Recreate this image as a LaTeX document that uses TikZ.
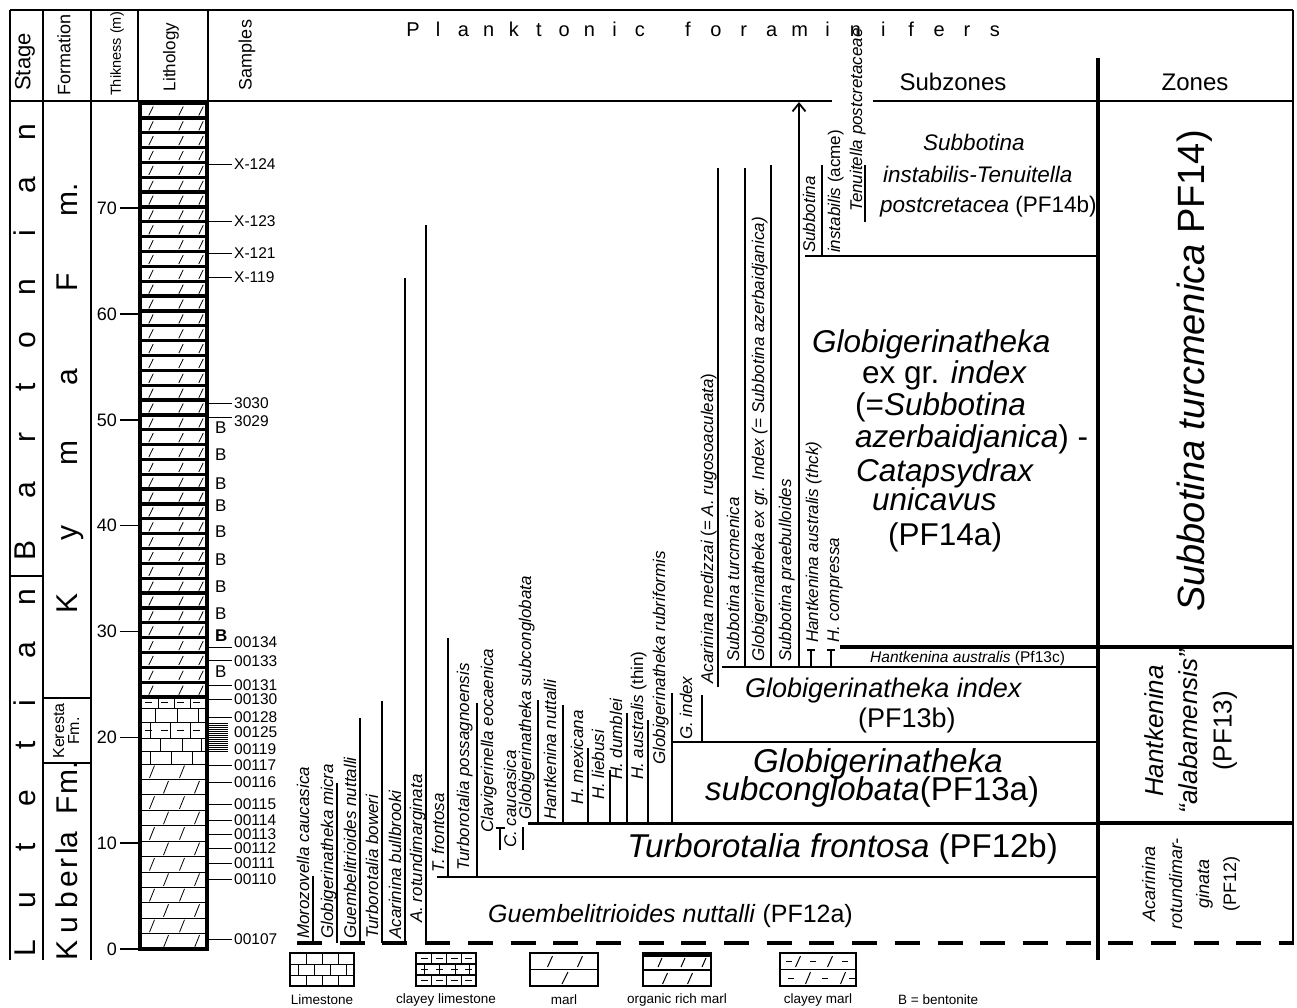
\documentclass[tikz,border=0pt]{standalone}
\usepackage{fontspec}
\setmainfont{Liberation Sans}
\usetikzlibrary{arrows.meta}
\newcommand\fsz[2]{\fontsize{#1}{#2}\selectfont}
\newcommand\smpl[4]{\draw[line width=0.9pt] (208,#1) -- (232,#1); \node[smp] (#3) at (234,#2) {#4};}
\begin{document}
\begin{tikzpicture}[x=1pt,y=-1pt,
  frm/.style={line width=1.3pt},
  rng/.style={line width=1.8pt},
  bnd/.style={line width=1.6pt},
  bndk/.style={line width=3.6pt},
  sp/.style={rotate=90,anchor=base west,inner sep=0pt,font={\fsz{17}{20}\itshape}},
  hdr/.style={rotate=90,inner sep=0pt},
  smp/.style={anchor=west,inner sep=0pt,font={\fsz{15.5}{18}}},
  bent/.style={anchor=west,inner sep=0pt,font={\fsz{17}{20}}},
  ltr/.style={rotate=90,anchor=base,inner sep=0pt,font={\fsz{30}{32}}},
  pf/.style={anchor=base,inner sep=0pt,font={\fsz{20}{22}}},
  sz/.style={inner sep=0pt},
  leg/.style={inner sep=0pt,font={\fsz{13.5}{16}}},
  lith/.style={line width=0.8pt},
]
\useasboundingbox (0,0) rectangle (1297,1007);
\fill[white] (0,0) rectangle (1297,1007);

% ---------------- frame ----------------
\draw[frm] (10,10) -- (1293,10);
\draw[frm] (10,101) -- (832,101);
\draw[frm] (873,101) -- (1293,101);
\draw[frm] (10,10) -- (10,960);
\draw[frm] (43,10) -- (43,960);
\draw[frm] (91,10) -- (91,960);
\draw[frm] (138,10) -- (138,101);
\draw[frm] (208,10) -- (208,101);
\draw[frm] (1293,10) -- (1293,945);
\draw[line width=4.5pt] (1098,58) -- (1098,960);
\draw[frm] (10,576) -- (43,576);
\draw[frm] (43,698) -- (91,698);
\draw[frm] (43,763) -- (91,763);

% ---------------- headers ----------------
\node[hdr,font={\fsz{22}{24}}] (hStage) at (25,62) {Stage};
\node[hdr,font={\fsz{18}{20}}] (hForm) at (64,55) {Formation};
\node[hdr,font={\fsz{14.5}{16}}] (hThk) at (117,54) {Thikness (m)};
\node[hdr,font={\fsz{17}{19}}] (hLith) at (171,57) {Lithology};
\node[hdr,font={\fsz{18}{20}}] (hSmp) at (247,55) {Samples};
\node[sz,font={\fsz{24}{26}}] (hSub) at (953,82) {Subzones};
\node[sz,font={\fsz{24}{26}}] (hZon) at (1195,82) {Zones};
\foreach \c [count=\i from 0] in {P,l,a,n,k,t,o,n,i,c}
  \node[pf] (pa\i) at ({413+25.2*\i},36) {\c};
\foreach \c [count=\i from 0] in {f,o,r,a,m,i,n,i,f,e,r,s}
  \node[pf] (pb\i) at ({688+27.9*\i},36) {\c};

% ---------------- stage & formation ----------------
\foreach \c/\yy [count=\i] in {L/948,u/900,t/847,e/798,t/745,i/703,a/650,n/597,B/550,a/490,r/437,t/387,o/340,n/287,i/233,a/185,n/132}
  \node[ltr] (st\i) at (35,\yy) {\c};
\foreach \c/\yy [count=\i] in {K/603,y/533,m/453,a/377,F/282,m./200}
  \node[ltr] (fk\i) at (77,\yy) {\c};
\foreach \c/\yy [count=\i] in {K/950,u/925,b/900,e/879,r/863,l/851,a/840,F/805,m./778}
  \node[ltr] (fb\i) at (77,\yy) {\c};
\node[hdr,align=center,font={\fsz{16}{15}}] (kerF) at (66,731) {Keresta\\Fm.};

% ---------------- thickness scale ----------------
\foreach \m in {0,10,...,70} {
  \draw[line width=1.5pt] (120,{949-10.583*\m}) -- (139,{949-10.583*\m});
  \node[anchor=east,inner sep=0pt,font={\fsz{18}{20}}] (th\m) at (117,{949-10.583*\m}) {\m};
}

% ---------------- lithology column ----------------
% organic rich marl
\foreach \i in {0,...,39}
  \foreach \sx in {151,181,201}
    \draw[lith] ({\sx-2.2},{103+14.85*\i+12.5}) -- ({\sx+2.2},{103+14.85*\i+3.5});
\foreach \i in {0,...,40}
  \draw[line width=3.3pt] (140,{103+14.85*\i}) -- (207,{103+14.85*\i});
% clayey bands and limestone
\draw[lith] (140,708) -- (207,708) (140,722) -- (207,722) (140,738) -- (207,738) (140,751) -- (207,751) (140,764) -- (207,764);
\foreach \sx in {145,161,177,193} \draw[lith] (\sx,702.5) -- ({\sx+7},702.5);
\foreach \sx in {158,174,190} \draw[lith] (\sx,697) -- (\sx,708);
\foreach \sx in {155,177,198} \draw[lith] (\sx,708) -- (\sx,722);
\foreach \sx in {145,161,177,193} \draw[lith] (\sx,730) -- ({\sx+7},730);
\foreach \sx in {150,170,190} \draw[lith] (\sx,722) -- (\sx,738);
\foreach \sx in {160,182,201} \draw[lith] (\sx,738) -- (\sx,751);
\foreach \sx in {150,171,192} \draw[lith] (\sx,751) -- (\sx,764);
% marl
\foreach \j in {1,...,11} \draw[lith] (140,{764+15.42*\j}) -- (207,{764+15.42*\j});
\foreach \j in {0,2,...,10} \foreach \sx in {152,182}
  \draw[lith] ({\sx-2.5},{764+15.42*\j+14}) -- ({\sx+2.5},{764+15.42*\j+1.5});
\foreach \j in {1,3,...,11} \foreach \sx in {166,197}
  \draw[lith] ({\sx-2.5},{764+15.42*\j+14}) -- ({\sx+2.5},{764+15.42*\j+1.5});
\draw[line width=3.5pt] (140,103) rectangle (207,949);

% ---------------- samples ----------------
\smpl{164}{164}{sX124}{X-124}
\smpl{221}{221}{sX123}{X-123}
\smpl{253}{253}{sX121}{X-121}
\smpl{277}{277}{sX119}{X-119}
\smpl{403}{403}{s3030}{3030}
\smpl{417}{421}{s3029}{3029}
\smpl{647}{642}{s134}{00134}
\smpl{660}{661}{s133}{00133}
\smpl{685}{685}{s131}{00131}
\smpl{699}{699}{s130}{00130}
\smpl{717}{717}{s128}{00128}
\node[smp] (s125) at (234,732) {00125};
\node[smp] (s119) at (234,749) {00119};
\foreach \k in {0,...,14} \draw[line width=0.6pt] (208,{723+2*\k}) -- (228,{723+2*\k});
\smpl{765}{765}{s117}{00117}
\smpl{782}{782}{s116}{00116}
\smpl{804}{804}{s115}{00115}
\smpl{820}{820}{s114}{00114}
\smpl{834}{834}{s113}{00113}
\smpl{848}{848}{s112}{00112}
\smpl{863}{863}{s111}{00111}
\smpl{879}{879}{s110}{00110}
\smpl{939}{939}{s107}{00107}
\foreach \yb [count=\k] in {428,455,484,506,532,560,587,614,672}
  \node[bent] (bn\k) at (215,\yb) {B};
\node[bent] (bnb) at (215,636) {\textbf{B}};

% ---------------- base line ----------------
\draw[line width=4pt,dash pattern=on 25pt off 17.7pt] (297,943) -- (1293,943);

% ---------------- zone boundaries ----------------
\draw[bnd] (437,877) -- (1098,877);
\draw[line width=3pt] (528,823) -- (1098,823);
\draw[bndk] (1098,823) -- (1293,823);
\draw[bnd] (672,742) -- (1098,742);
\draw[bnd] (722,667) -- (1098,667);
\draw[bndk] (840,647) -- (1293,647);
\draw[bnd] (805,256) -- (1098,256);

% ---------------- species ranges ----------------
\draw[rng] (313,943) -- (313,876);
\node[sp] (sMor) at (309,939) {Morozovella caucasica};
\draw[rng] (337,943) -- (337,783);
\node[sp] (sGmi) at (333,939) {Globigerinatheka micra};
\draw[rng] (360,943) -- (360,718);
\node[sp] (sGnu) at (356,939) {Guembelitrioides nuttalli};
\draw[rng] (382,943) -- (382,701);
\node[sp] (sTbo) at (378,939) {Turborotalia boweri};
\draw[rng] (405,943) -- (405,278);
\node[sp] (sAbu) at (401,939) {Acarinina bullbrooki};
\draw[rng] (426,943) -- (426,225);
\node[sp] (sAro) at (422,923) {A. rotundimarginata};
\draw[rng] (448,877) -- (448,638);
\node[sp] (sTfr) at (444,873) {T. frontosa};
\draw[rng] (477,877) -- (477,703);
\node[sp] (sTpo) at (469,871) {Turborotalia possagnoensis};
\draw[rng] (500,850) -- (500,828);
\draw[rng] (496,828) -- (505,828);
\node[sp] (sCeo) at (493,833) {Clavigerinella eocaenica};
\draw[rng] (523,850) -- (523,827);
\node[sp] (sCca) at (516,848) {C. caucasica};
\draw[rng] (538,823) -- (538,700);
\node[sp] (sGsu) at (531,820) {Globigerinatheka subconglobata};
\draw[rng] (563,823) -- (563,705);
\node[sp] (sHnu) at (556,820) {Hantkenina nuttalli};
\draw[rng] (588,823) -- (588,748);
\node[sp] (sHme) at (583,805) {H. mexicana};
\draw[rng] (610,823) -- (610,770);
\node[sp] (sHli) at (604,800) {H. liebusi};
\draw[rng] (627,823) -- (627,713);
\node[sp] (sHdu) at (622,780) {H. dumblei};
\draw[rng] (648,823) -- (648,720);
\node[sp] (sHat) at (643,780) {H. australis \upshape(thin)};
\draw[rng] (672,823) -- (672,693);
\node[sp] (sGru) at (665,765) {Globigerinatheka rubriformis};
\draw[rng] (702,742) -- (702,695);
\node[sp] (sGin) at (692,740) {G. index};
\draw[rng] (718,687) -- (718,168);
\node[sp] (sAme) at (713,684) {Acarinina medizzai \upshape(= \itshape A. rugosoaculeata\upshape)};
\draw[rng] (745,667) -- (745,168);
\node[sp] (sStu) at (739,662) {Subbotina turcmenica};
\draw[rng] (771,667) -- (771,165);
\node[sp] (sGex) at (764,662) {Globigerinatheka ex gr. Index (= Subbotina azerbaidjanica)};
\draw[rng,-{Straight Barb[length=8pt,width=13pt]}] (799,667) -- (799,102);
\node[sp] (sSpr) at (791,662) {Subbotina praebulloides};
\draw[rng] (811,666) -- (811,650);
\draw[rng] (807,650) -- (815,650);
\node[sp] (sHak) at (818,643) {Hantkenina australis (thck)};
\draw[rng] (831,666) -- (831,650);
\draw[rng] (827,650) -- (835,650);
\node[sp] (sHco) at (839,643) {H. compressa};
\draw[rng] (822,255) -- (822,165);
\node[sp] (sSin1) at (815,253) {Subbotina};
\node[sp] (sSin2) at (840,253) {instabilis \upshape(acme)};
\draw[rng] (865,222) -- (865,165);
\node[sp] (sTen) at (862,212) {Tenuitella postcretaceae};

% ---------------- subzone labels ----------------
\node[sz,anchor=base east,font={\fsz{25}{28}}] (z12a) at (853,922) {\textit{Guembelitrioides nuttalli} (PF12a)};
\node[sz,anchor=base east,font={\fsz{33}{36}}] (z12b) at (1058,857) {\textit{Turborotalia frontosa} (PF12b)};
\node[sz,anchor=base west,font={\fsz{33}{36}}] (z13a1) at (753,772) {\textit{Globigerinatheka}};
\node[sz,anchor=base west,font={\fsz{33}{36}}] (z13a2) at (705,800) {\textit{subconglobata}(PF13a)};
\node[sz,anchor=base west,font={\fsz{27}{30}}] (z13b1) at (745,697) {\textit{Globigerinatheka index}};
\node[sz,anchor=base west,font={\fsz{27}{30}}] (z13b2) at (858,727) {(PF13b)};
\node[sz,anchor=base west,font={\fsz{15.5}{18}}] (z13c) at (870,662) {\textit{Hantkenina australis} (Pf13c)};
\node[sz,anchor=base west,font={\fsz{31.5}{34}}] (z14a1) at (812,352) {\textit{Globigerinatheka}};
\node[sz,anchor=base west,font={\fsz{31.5}{34}}] (z14a2) at (862,383) {ex gr. \textit{index}};
\node[sz,anchor=base west,font={\fsz{31.5}{34}}] (z14a3) at (855,415) {(=\textit{Subbotina}};
\node[sz,anchor=base west,font={\fsz{31.5}{34}}] (z14a4) at (855,447) {\textit{azerbaidjanica}) -};
\node[sz,anchor=base west,font={\fsz{31.5}{34}}] (z14a5) at (856,481) {\textit{Catapsydrax}};
\node[sz,anchor=base west,font={\fsz{31.5}{34}}] (z14a6) at (872,510) {\textit{unicavus}};
\node[sz,anchor=base west,font={\fsz{31.5}{34}}] (z14a7) at (888,545) {(PF14a)};
\node[sz,anchor=base west,font={\fsz{22.5}{25}}] (z14b1) at (923,150) {\textit{Subbotina}};
\node[sz,anchor=base west,font={\fsz{22.5}{25}}] (z14b2) at (883,182) {\textit{instabilis-Tenuitella}};
\node[sz,anchor=base west,font={\fsz{22.5}{25}}] (z14b3) at (880,212) {\textit{postcretacea} (PF14b)};

% ---------------- zone labels ----------------
\node[sz,rotate=90,font={\fsz{38}{40}}] (zPF14) at (1195,371) {\textit{Subbotina turcmenica} PF14)};
\node[sz,rotate=90,align=center,font={\fsz{26}{34}}] (zPF13) at (1191,731) {\textit{Hantkenina}\\\textit{“alabamensis”}\\(PF13)};
\node[sz,rotate=90,align=center,font={\fsz{18}{27}}] (zPF12) at (1191,884) {\textit{Acarinina}\\\textit{rotundimar-}\\\textit{ginata}\\(PF12)};

% ---------------- legend ----------------
% Limestone
\draw[line width=1.8pt] (290,953) rectangle (354,986);
\draw[lith] (290,964) -- (354,964) (290,975) -- (354,975);
\foreach \sx in {306,322,338} \draw[lith] (\sx,953) -- (\sx,964) (\sx,975) -- (\sx,986);
\foreach \sx in {298,314,330,346} \draw[lith] (\sx,964) -- (\sx,975);
\node[leg] (lg1) at (322,1000) {Limestone};
% clayey limestone
\draw[line width=1.8pt] (416,953) rectangle (476,986);
\draw[line width=1.4pt] (416,964) -- (476,964) (416,975) -- (476,975);
\foreach \yy in {958.5,969.5,980.5} \foreach \sx in {421,436,451,465} \draw[line width=1.6pt] (\sx,\yy) -- ({\sx+7},\yy);
\foreach \sx in {431,446,461} \draw[lith] (\sx,953) -- (\sx,964) (\sx,975) -- (\sx,986);
\foreach \sx in {424,439,455,469} \draw[lith] (\sx,964) -- (\sx,975);
\node[leg] (lg2) at (446,1000) {clayey limestone};
% marl
\draw[line width=1.8pt] (530,953) rectangle (598,986);
\draw[line width=1.2pt] (530,969.5) -- (598,969.5);
\foreach \sx in {550,580} \draw[line width=1pt] ({\sx-2.5},967) -- ({\sx+2.5},956);
\draw[line width=1pt] (562,984) -- (568,972);
\node[leg] (lg3) at (564,1000) {marl};
% organic rich marl
\draw[line width=1.8pt] (643,953) rectangle (711,986);
\draw[line width=3pt] (643,955) -- (711,955);
\draw[line width=2.5pt] (643,970) -- (711,970);
\foreach \sx in {660,683,704} \draw[line width=1pt] ({\sx-2},967) -- ({\sx+2},958);
\foreach \sx in {665,690} \draw[line width=1pt] ({\sx-2.5},984) -- ({\sx+2.5},973);
\node[leg] (lg4) at (677,1000) {organic rich marl};
% clayey marl
\draw[line width=1.8pt] (780,953) rectangle (856,986);
\draw[lith] (780,969.5) -- (856,969.5);
\foreach \sx in {798,830} \draw[line width=1pt] ({\sx-2.5},967) -- ({\sx+2.5},956);
\foreach \sx in {786,810,842} \draw[line width=1pt] (\sx,961) -- ({\sx+6},961);
\foreach \sx in {808,843} \draw[line width=1pt] ({\sx-2.5},984) -- ({\sx+2.5},972);
\foreach \sx in {788,822,849} \draw[line width=1pt] (\sx,978) -- ({\sx+6},978);
\node[leg] (lg5) at (818,1000) {clayey marl};
\node[leg,anchor=west] (lgB) at (898,1000) {B = bentonite};
\end{tikzpicture}
\end{document}
